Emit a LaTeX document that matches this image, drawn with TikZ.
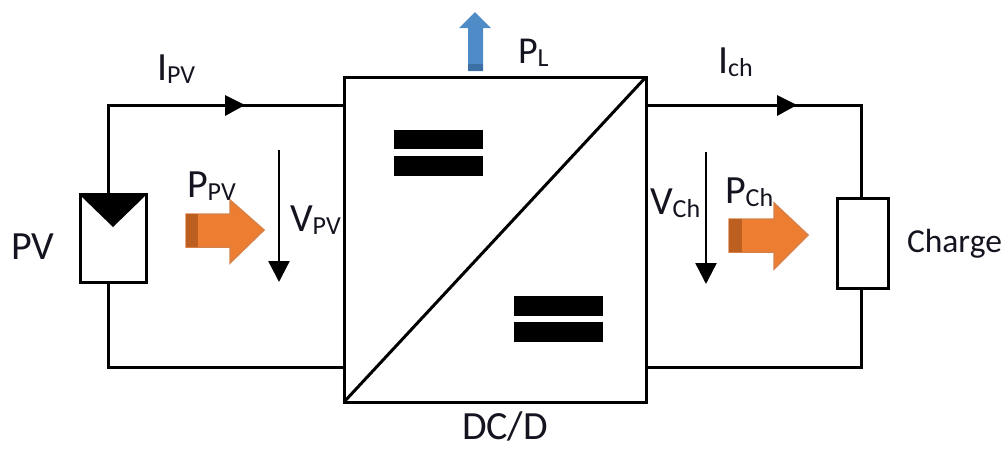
\documentclass[tikz,border=0pt]{standalone}
\usepackage{fontspec}
\setmainfont{Carlito}
\usetikzlibrary{arrows.meta}
\definecolor{orangefill}{HTML}{ED7D31}
\definecolor{orangedark}{HTML}{BE5F22}
\definecolor{orangeline}{HTML}{D98045}
\definecolor{bluefill}{HTML}{4F8BC6}
\definecolor{bluedark}{HTML}{3C6FA3}
\definecolor{inktext}{HTML}{141420}
\newcommand{\lab}[3][40]{{\fontsize{#1}{#1}\selectfont #2\raisebox{-3pt}{\fontsize{26}{26}\selectfont #3}}}
\tikzset{
  wire/.style={draw=black,line width=3pt,line join=miter},
  block/.style={draw=black,line width=3pt,fill=white,inner sep=0pt,outer sep=0pt},
  volt/.style={draw=black,line width=2.4pt,-{Triangle[length=21pt,width=21pt]}},
  txt/.style={inner sep=0pt,outer sep=0pt,text=inktext,anchor=base west},
}
\begin{document}
\begin{tikzpicture}[x=1pt,y=-1pt]
\useasboundingbox (0,0) rectangle (1005,448);
% converter
\node[block,minimum width=302pt,minimum height=325pt] (conv) at (495,239.5) {};
\draw[wire] (conv.south west) -- (conv.north east);
\fill[black] (394,130) rectangle (483,149);
\fill[black] (394,156) rectangle (483,176);
\fill[black] (514,296) rectangle (603,316);
\fill[black] (514,322) rectangle (603,342);
% PV module
\node[block,minimum width=66pt,minimum height=88pt] (pv) at (113,238) {};
\fill[black] (pv.north west) -- (pv.north east) -- ++(-2,3) -- (113,227) -- (82,197) -- cycle;
\coordinate (tl) at (108,105);
\coordinate (bl) at (108,367);
\draw[wire] (tl |- pv.north) -- (tl) -- (tl -| conv.west);
\draw[wire] (bl |- pv.south) -- (bl) -- (bl -| conv.west);
\fill[black] (225,95) -- (245,105) -- (225,116) -- cycle;
% load
\node[block,minimum width=51pt,minimum height=90pt] (load) at (862.5,243) {};
\coordinate (tr) at (861,105);
\coordinate (br) at (861,367);
\draw[wire] (tr -| conv.east) -- (tr) -- (tr |- load.north);
\draw[wire] (br -| conv.east) -- (br) -- (br |- load.south);
\fill[black] (777,95) -- (797,105) -- (777,116) -- cycle;
% voltage arrows
\coordinate (va) at (279,150); \coordinate (vb) at (279,282);
\draw[volt] (va) -- (vb);
\coordinate (vc) at (706,152); \coordinate (vd) at (706,284);
\draw[volt] (vc) -- (vd);
% orange power arrows
\filldraw[fill=orangefill,draw=orangeline,line width=1.5pt] (186,214) -- (230,214) -- (230,200) -- (264,230) -- (230,263) -- (230,247) -- (186,247) -- cycle;
\fill[orangedark] (186,214) rectangle (198,247);
\filldraw[fill=orangefill,draw=orangeline,line width=1.5pt] (729,219) -- (774,219) -- (774,203) -- (808,235) -- (774,269) -- (774,252) -- (729,252) -- cycle;
\fill[orangedark] (729,219) rectangle (742,252);
% blue arrow
\fill[bluefill] (468,71) -- (468,28) -- (459,28) -- (475,12) -- (491,28) -- (483,28) -- (483,71) -- cycle;
\fill[bluedark] (468,64) rectangle (483,71);
% labels
\node[txt] (lpv) at (11,259) {\fontsize{40}{40}\selectfont PV};
\node[txt] (lipv) at (157,80) {\lab{I}{PV}};
\node[txt] (lppv) at (187,197) {\lab{P}{PV}};
\node[txt] (lvpv) at (290,231) {\lab{V}{PV}};
\node[txt] (lpl) at (518,63) {\lab[38]{P}{L}};
\node[txt] (lich) at (718,73) {\lab{I}{ch}};
\node[txt] (lvch) at (650,214) {\lab{V}{Ch}};
\node[txt] (lpch) at (725,203) {\lab{P}{Ch}};
\node[txt] (lcharge) at (907,252) {\fontsize{33.5}{33.5}\selectfont Charge};
\node[txt] (ldc) at (462,439) {\fontsize{40}{40}\selectfont DC/D};
\end{tikzpicture}
\end{document}
